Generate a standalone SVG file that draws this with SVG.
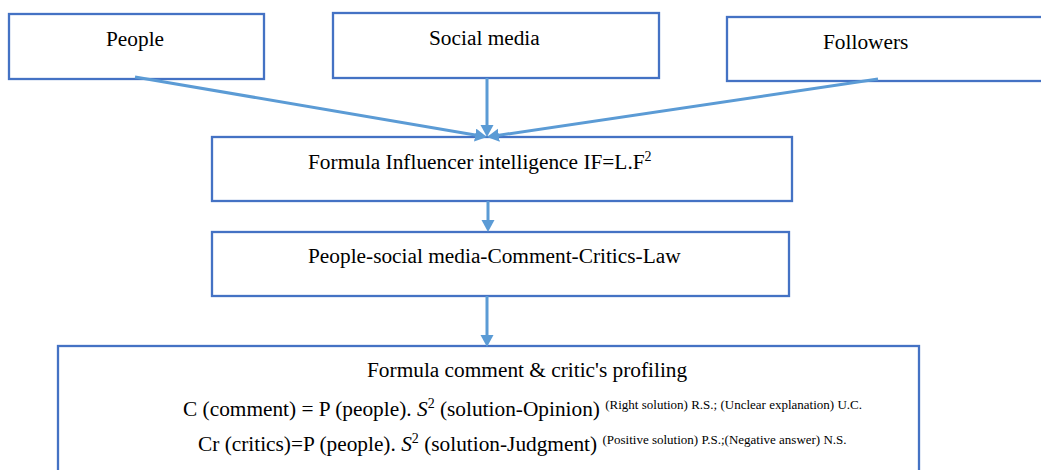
<svg xmlns="http://www.w3.org/2000/svg" width="1041" height="470" viewBox="0 0 1041 470">
<style>
.box{fill:#ffffff;stroke:#4472C4;stroke-width:2.3}
.t{font-family:'Liberation Serif',Tinos,'Times New Roman','DejaVu Serif',serif;font-size:21.33px;fill:#000}
.sm{font-size:13px}
.sup{font-size:14px}
.con{stroke:#5B9BD5;stroke-width:3;fill:none;marker-end:url(#ah)}
</style>
<defs>
<marker id="ah" markerUnits="userSpaceOnUse" markerWidth="13" markerHeight="14" refX="3" refY="6.5" orient="auto">
<path d="M0,0 L12,6.5 L0,13 Z" fill="#5B9BD5"/>
</marker>
</defs>
<rect width="1041" height="470" fill="#ffffff"/>
<g id="people">
<rect class="box" x="9" y="14" width="255" height="65"/>
<text class="t" x="106" y="46">People</text>
</g>
<g id="social-media">
<rect class="box" x="333" y="13" width="326" height="65"/>
<text class="t" x="429" y="45">Social media</text>
</g>
<g id="followers">
<rect class="box" x="727" y="17" width="330" height="64"/>
<text class="t" x="823" y="49">Followers</text>
</g>
<g id="formula-influencer">
<rect class="box" x="212" y="137" width="580" height="64"/>
<text class="t" x="308" y="169">Formula Influencer intelligence IF=L.F<tspan class="sup" dy="-8">2</tspan></text>
</g>
<g id="law">
<rect class="box" x="212" y="232" width="577" height="64"/>
<text class="t" x="308" y="263">People-social media-Comment-Critics-Law</text>
</g>
<g id="profiling">
<rect class="box" x="58" y="346" width="861" height="140"/>
<text class="t" x="367" y="377">Formula comment &amp; critic's profiling</text>
<text class="t" x="183" y="416">C (comment) = P (people). <tspan font-style="italic">S</tspan><tspan class="sup" dy="-8">2</tspan><tspan dy="8"> (solution-Opinion) </tspan><tspan class="sm" dy="-7">(Right solution) R.S.; (Unclear  explanation) U.C.</tspan></text>
<text class="t" x="198" y="451">Cr (critics)=P (people). <tspan font-style="italic">S</tspan><tspan class="sup" dy="-8">2</tspan><tspan dy="8"> (solution-Judgment) </tspan><tspan class="sm" dy="-7">(Positive solution) P.S.;(Negative answer) N.S.</tspan></text>
</g>
<g id="connectors">
<line class="con" x1="135" y1="77" x2="478.1" y2="135.5"/>
<line class="con" x1="487" y1="78" x2="487" y2="128"/>
<line class="con" x1="878" y1="79" x2="495.9" y2="135.7"/>
<line class="con" x1="488" y1="201" x2="488" y2="223"/>
<line class="con" x1="487" y1="296" x2="487" y2="338"/>
</g>
</svg>
